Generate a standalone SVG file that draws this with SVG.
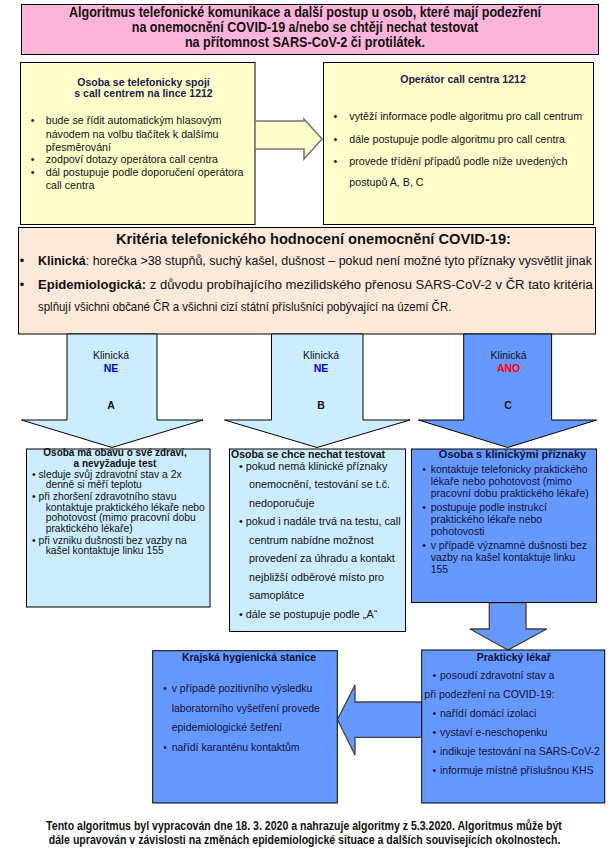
<svg xmlns="http://www.w3.org/2000/svg" width="612" height="864" viewBox="0 0 612 864">
<style>
text{font-family:"Liberation Sans",Arial,"Noto Sans",sans-serif;fill:#111;}
.b{font-weight:bold;}
.hd{font-weight:bold;font-size:10.5px;fill:#1b1b4d;}
.y{font-size:10.7px;}
.s{font-size:10.5px;}
.sa{font-size:10.3px;}
.s11{font-size:10.8px;}
.nv{fill:#0e1238;}
.mid{text-anchor:middle;}
.box{stroke:#000;stroke-width:1;}
.pink{fill:#FFB5DA;}
.yel{fill:#FFFFCC;}
.peach{fill:#FDE9DA;}
.lb{fill:#CCECFF;}
.db{fill:#6699FF;}
.lbl{font-size:11.5px;}
.blue{fill:#0000CC;font-weight:bold;font-size:10.5px;}
.red{fill:#FF0000;font-weight:bold;font-size:10.5px;}
</style>

<g id="title">
<rect class="box pink" x="21.5" y="4.5" width="577" height="50"/>
<text class="b mid" transform="translate(305,16.5) scale(0.837,1)" x="0" y="0" font-size="14.6" textLength="564" lengthAdjust="spacingAndGlyphs">Algoritmus telefonické komunikace a další postup u osob, které mají podezření</text>
<text class="b mid" transform="translate(305,31.5) scale(0.837,1)" x="0" y="0" font-size="14.6" textLength="414" lengthAdjust="spacingAndGlyphs">na onemocnění COVID-19 a/nebo se chtějí nechat testovat</text>
<text class="b mid" transform="translate(305,46.5) scale(0.837,1)" x="0" y="0" font-size="14.6" textLength="287" lengthAdjust="spacingAndGlyphs">na přítomnost SARS-CoV-2 či protilátek.</text>
</g>

<g id="caller">
<rect class="box yel" x="20.5" y="62.5" width="234.5" height="162"/>
<text class="hd mid" x="143.5" y="86">Osoba se telefonicky spojí</text>
<text class="hd mid" x="143.5" y="97">s call centrem na lince 1212</text>
<text class="y" x="30.8" y="124">•</text>
<text class="y" x="45.7" y="124">bude se řídit automatickým hlasovým</text>
<text class="y" x="45.7" y="137.5">návodem na volbu tlačítek k dalšímu</text>
<text class="y" x="45.7" y="151">přesměrování</text>
<text class="y" x="30.8" y="162.5">•</text>
<text class="y" x="45.7" y="162.5">zodpoví dotazy operátora call centra</text>
<text class="y" x="30.8" y="175.5">•</text>
<text class="y" x="45.7" y="175.5">dál postupuje podle doporučení operátora</text>
<text class="y" x="45.7" y="189">call centra</text>
</g>

<g id="operator">
<rect class="box yel" x="323.5" y="62.5" width="270" height="162"/>
<text class="hd mid" x="463" y="83">Operátor call centra 1212</text>
<text class="y" x="333.4" y="120">•</text>
<text class="y" x="349.3" y="120">vytěží informace podle algoritmu pro call centrum</text>
<text class="y" x="333.4" y="142.5">•</text>
<text class="y" x="349.3" y="142.5">dále postupuje podle algoritmu pro call centra</text>
<text class="y" x="333.4" y="164.5">•</text>
<text class="y" x="349.3" y="164.5">provede třídění případů podle níže uvedených</text>
<text class="y" x="349.3" y="186">postupů A, B, C</text>
</g>

<g id="criteria">
<rect class="box peach" x="18.5" y="227.5" width="577" height="106.5"/>
<text class="b mid" x="313.5" y="244" font-size="14.7" textLength="395" lengthAdjust="spacingAndGlyphs">Kritéria telefonického hodnocení onemocnění COVID-19:</text>
<text x="19.6" y="265" font-size="13.5">•</text>
<text transform="translate(38,265) scale(0.847,1)" x="0" y="0" font-size="13.5" textLength="654" lengthAdjust="spacingAndGlyphs"><tspan class="b">Klinická</tspan>: horečka &gt;38 stupňů, suchý kašel, dušnost – pokud není možné tyto příznaky vysvětlit jinak</text>
<text x="19.6" y="289" font-size="13.5">•</text>
<text transform="translate(38,289) scale(0.847,1)" x="0" y="0" font-size="13.5" textLength="655" lengthAdjust="spacingAndGlyphs"><tspan class="b">Epidemiologická:</tspan> z důvodu probíhajícího mezilidského přenosu SARS-CoV-2 v ČR tato kritéria</text>
<text transform="translate(38,311) scale(0.847,1)" x="0" y="0" font-size="13.5" textLength="488" lengthAdjust="spacingAndGlyphs">splňují všichni občané ČR a všichni cizí státní příslušníci pobývající na území ČR.</text>
</g>

<g id="connectors">
<polygon points="255,121 304,121 304,119 322,139 304,159 304,149 255,149" fill="#FFFFCC" stroke="#777" stroke-width="1.6"/>
<polygon class="lb" points="67,334 157,334 157,420 203,420 112,447.5 21.5,420 67,420" stroke="#000" stroke-width="1"/>
<polygon class="lb" points="271.5,334 363,334 363,420 410,420 317,447.5 224.5,420 271.5,420" stroke="#000" stroke-width="1"/>
<polygon class="db" points="463.7,334 551.6,334 551.6,420 596.6,420 507.6,447.5 418.5,420 463.7,420" stroke="#000" stroke-width="1"/>
<polygon class="db" points="489.3,602.5 526,602.5 526,629 546.7,629 508,650 470,629 489.3,629" stroke="#404040" stroke-width="1.3"/>
<polygon class="db" points="421.7,702 355,702 355,685 337.5,719.5 355,755 355,737.3 421.7,737.3" stroke="#404040" stroke-width="1.3"/>
<text class="lbl mid" x="111" y="359" textLength="36" lengthAdjust="spacingAndGlyphs">Klinická</text>
<text class="blue mid" x="111" y="371.5">NE</text>
<text class="b mid" x="111" y="409" font-size="10.5">A</text>
<text class="lbl mid" x="321" y="359" textLength="36" lengthAdjust="spacingAndGlyphs">Klinická</text>
<text class="blue mid" x="321" y="371.5">NE</text>
<text class="b mid" x="321" y="409" font-size="10.5">B</text>
<text class="lbl mid" x="508.6" y="359" textLength="36" lengthAdjust="spacingAndGlyphs">Klinická</text>
<text class="red mid" x="508.6" y="371.5">ANO</text>
<text class="b mid" x="508" y="409" font-size="10.5">C</text>
</g>

<g id="caseA">
<rect class="box lb" x="26.5" y="449" width="183.5" height="158"/>
<text class="b mid" x="115" y="456" font-size="10">Osoba má obavu o své zdraví,</text>
<text class="b mid" x="115" y="467" font-size="10">a nevyžaduje test</text>
<text class="sa" x="32" y="477.5">• sleduje svůj zdravotní stav a 2x</text>
<text class="sa" x="45.7" y="488">denně si měří teplotu</text>
<text class="sa" x="32" y="500">• při zhoršení zdravotního stavu</text>
<text class="sa" x="45.7" y="510.5">kontaktuje praktického lékaře nebo</text>
<text class="sa" x="45.7" y="521">pohotovost (mimo pracovní dobu</text>
<text class="sa" x="45.7" y="531.5">praktického lékaře)</text>
<text class="sa" x="32" y="543.5">• při vzniku dušnosti bez vazby na</text>
<text class="sa" x="45.7" y="554">kašel kontaktuje linku 155</text>
</g>

<g id="caseB">
<rect class="box lb" x="229.5" y="449" width="176" height="182.5"/>
<text class="b" x="231" y="458" font-size="10.5">Osoba se chce nechat testovat</text>
<text class="s11" x="239" y="469.5">• pokud nemá klinické příznaky</text>
<text class="s11" x="249" y="488">onemocnění, testování se t.č.</text>
<text class="s11" x="249" y="506.5">nedoporučuje</text>
<text class="s11" x="239" y="525">• pokud i nadále trvá na testu, call</text>
<text class="s11" x="249" y="543.5">centrum nabídne možnost</text>
<text class="s11" x="249" y="562">provedení za úhradu a kontakt</text>
<text class="s11" x="249" y="580.5">nejbližší odběrové místo pro</text>
<text class="s11" x="249" y="599">samoplátce</text>
<text class="s11" x="239" y="617.5">• dále se postupuje podle „A“</text>
</g>

<g id="caseC">
<rect class="box db" x="411.5" y="449" width="185" height="153.5"/>
<text class="b mid nv" x="512.5" y="458" font-size="11">Osoba s klinickými příznaky</text>
<text class="s nv" x="422.2" y="473">•</text>
<text class="s nv" x="430.7" y="473">kontaktuje telefonicky praktického</text>
<text class="s nv" x="430.7" y="485">lékaře nebo pohotovost (mimo</text>
<text class="s nv" x="430.7" y="497">pracovní dobu praktického lékaře)</text>
<text class="s nv" x="422.2" y="511">•</text>
<text class="s nv" x="430.7" y="511">postupuje podle instrukcí</text>
<text class="s nv" x="430.7" y="523">praktického lékaře nebo</text>
<text class="s nv" x="430.7" y="535">pohotovosti</text>
<text class="s nv" x="422.2" y="549">•</text>
<text class="s nv" x="430.7" y="549">v případě významné dušnosti bez</text>
<text class="s nv" x="430.7" y="561">vazby na kašel kontaktuje linku</text>
<text class="s nv" x="430.7" y="573">155</text>
</g>

<g id="khs">
<rect class="box db" x="152.7" y="650.7" width="184.6" height="152.3"/>
<text class="b mid nv" x="249" y="660.5" font-size="10.5">Krajská hygienická stanice</text>
<text class="s nv" x="163.2" y="691.5">•</text>
<text class="s nv" x="171.7" y="691.5">v případě pozitivního výsledku</text>
<text class="s nv" x="171.7" y="711.5">laboratorního vyšetření provede</text>
<text class="s nv" x="171.7" y="731">epidemiologické šetření</text>
<text class="s nv" x="163.2" y="750.5">•</text>
<text class="s nv" x="171.7" y="750.5">nařídí karanténu kontaktům</text>
</g>

<g id="gp">
<rect class="box db" x="421.7" y="650" width="183" height="153"/>
<text class="b mid nv" x="513.8" y="660.5" font-size="10.5">Praktický lékař</text>
<text class="s nv" x="432.5" y="679">•</text>
<text class="s nv" x="440" y="679">posoudí zdravotní stav a</text>
<text class="s nv" x="424.3" y="698">při podezření na COVID-19:</text>
<text class="s nv" x="432.5" y="717">•</text>
<text class="s nv" x="440" y="717">nařídí domácí izolaci</text>
<text class="s nv" x="432.5" y="736">•</text>
<text class="s nv" x="440" y="736">vystaví e-neschopenku</text>
<text class="s nv" x="432.5" y="755">•</text>
<text class="s nv" x="440" y="755">indikuje testování na SARS-CoV-2</text>
<text class="s nv" x="432.5" y="774">•</text>
<text class="s nv" x="440" y="774">informuje místně příslušnou KHS</text>
</g>

<g id="footer">
<text class="b mid" transform="translate(304,829.5) scale(0.82,1)" x="0" y="0" font-size="12" textLength="629" lengthAdjust="spacingAndGlyphs">Tento algoritmus byl vypracován dne 18. 3. 2020 a nahrazuje algoritmy z 5.3.2020. Algoritmus může být</text>
<text class="b mid" transform="translate(304.6,843.5) scale(0.82,1)" x="0" y="0" font-size="12" textLength="624" lengthAdjust="spacingAndGlyphs">dále upravován v závislosti na změnách epidemiologické situace a dalších souvisejících okolnostech.</text>
</g>
</svg>
